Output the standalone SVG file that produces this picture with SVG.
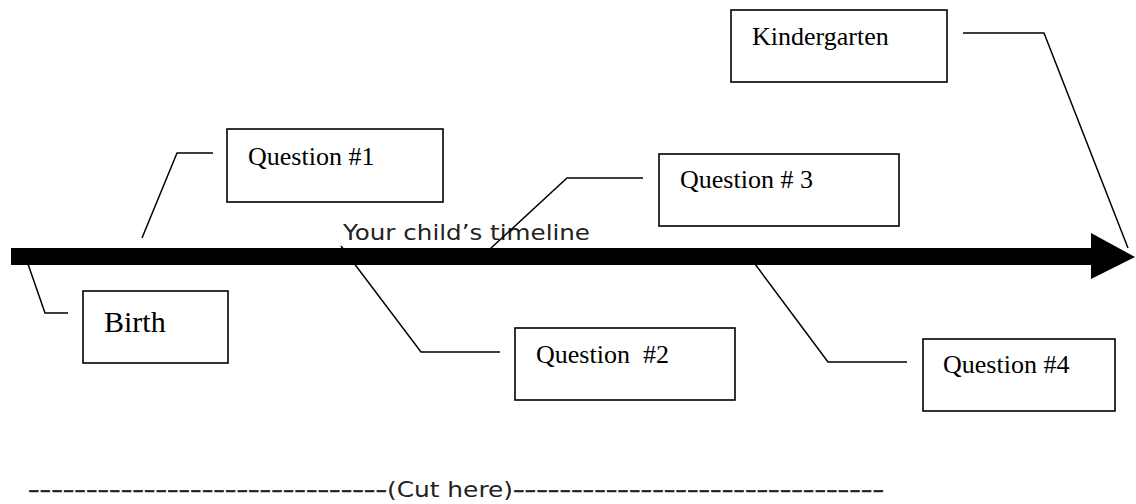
<svg xmlns="http://www.w3.org/2000/svg" width="1136" height="504" viewBox="0 0 1136 504">
<style>
.box{fill:#fff;stroke:#000;stroke-width:1.6}
.lbl{font-family:"Liberation Serif",serif;font-size:26px;fill:#000}
.conn{fill:none;stroke:#000;stroke-width:1.5}
.hand{font-family:"DejaVu Sans",sans-serif;fill:#222}
.dash{stroke:#222;stroke-width:0.6}
</style>
<rect width="1136" height="504" fill="#fff"/>
<g id="timeline">
<rect x="11" y="248" width="1081" height="17" fill="#000"/>
<polygon points="1091,233 1135,257 1091,279" fill="#000"/>
<text class="hand" x="343" y="240" style="font-size:22px" textLength="247" lengthAdjust="spacingAndGlyphs">Your child’s timeline</text>
</g>
<g id="connectors">
<polyline class="conn" points="28,264 45,313 68,313"/>
<polyline class="conn" points="213,153 177,153 142,238"/>
<polyline class="conn" points="341,246 421,352 500,352"/>
<polyline class="conn" points="490,249 567,178 643,178"/>
<polyline class="conn" points="755,264 828,362 907,362"/>
<polyline class="conn" points="963,33 1044,33 1128,248"/>
</g>
<g id="birth">
<rect class="box" x="83" y="291" width="145" height="72"/>
<text class="lbl" x="104" y="332" style="font-size:30px">Birth</text>
</g>
<g id="q1">
<rect class="box" x="227" y="129" width="216" height="73"/>
<text class="lbl" x="248" y="165">Question #1</text>
</g>
<g id="q2">
<rect class="box" x="515" y="328" width="220" height="72"/>
<text class="lbl" x="536" y="363" xml:space="preserve">Question  #2</text>
</g>
<g id="q3">
<rect class="box" x="659" y="154" width="240" height="72"/>
<text class="lbl" x="680" y="188">Question # 3</text>
</g>
<g id="q4">
<rect class="box" x="923" y="339" width="192" height="72"/>
<text class="lbl" x="943" y="373">Question #4</text>
</g>
<g id="kindergarten">
<rect class="box" x="731" y="10" width="216" height="72"/>
<text class="lbl" x="752" y="45">Kindergarten</text>
</g>
<g id="cut">
<text class="hand" y="497" style="font-size:21px"><tspan class="dash" x="28" textLength="359" lengthAdjust="spacingAndGlyphs">-------------------------------</tspan><tspan x="387" textLength="126" lengthAdjust="spacingAndGlyphs">(Cut here)</tspan><tspan class="dash" x="513" textLength="371" lengthAdjust="spacingAndGlyphs">--------------------------------</tspan></text>
</g>
</svg>
